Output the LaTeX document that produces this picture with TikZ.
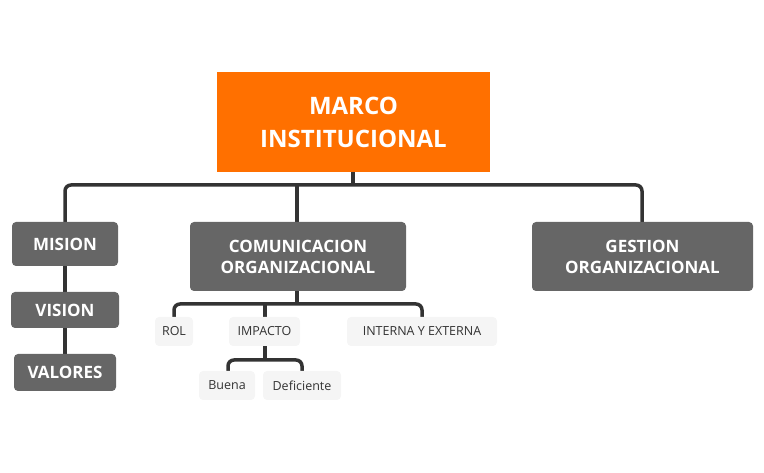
\documentclass[tikz,border=0pt]{standalone}
\usepackage{fontspec}
\setmainfont{Open Sans}
\begin{document}
\begin{tikzpicture}[x=1pt,y=-1pt,
  conn/.style={draw=black!80,line width=3.5pt,rounded corners=6pt},
  mainbox/.style={fill=black!60,rounded corners=4pt,text=white,font=\bfseries\fontsize{17}{21}\selectfont,align=center,inner sep=0pt},
  subbox/.style={fill=black!4,rounded corners=4pt,text=black!80,font=\fontsize{12.5}{15}\selectfont,inner sep=0pt}]
\useasboundingbox (0,0) rectangle (764,473);
\def\bx#1#2#3#4#5#6#7{\node[#7,minimum width=#4-#2,minimum height=#5-#3] (#1) at ({(#2+#4)/2},{(#3+#5)/2}) {#6};}
% connectors first
\coordinate (b1) at (353,185);
\draw[conn] (353,172) -- (353,185);
\draw[conn] (65,222) |- (353,185) -| (642,222);
\draw[conn] (297,222) -- (297,185);
\draw[conn] (65,222) -- (65,391);
\draw[conn] (297,291) -- (297,304);
\draw[conn] (174,317) |- (297,304) -| (422,317);
\draw[conn] (265,317) -- (265,304);
\draw[conn] (265,346) -- (265,360);
\draw[conn] (228,371) |- (265,360) -| (302,371);
\bx{marco}{217}{72}{490}{172}{MARCO\\INSTITUCIONAL}{mainbox,fill={rgb,255:red,255;green,112;blue,0},rounded corners=0pt,font=\bfseries\fontsize{24}{33}\selectfont}
\bx{mision}{12}{222}{118}{266}{MISION}{mainbox}
\bx{vision}{11}{292}{119}{328}{VISION}{mainbox}
\bx{valores}{14}{354}{116}{391}{VALORES}{mainbox}
\bx{com}{190}{222}{406}{291}{COMUNICACION\\ORGANIZACIONAL}{mainbox}
\bx{gest}{532}{222}{753}{291}{GESTION\\ORGANIZACIONAL}{mainbox}
\bx{rol}{155}{317}{193}{346}{ROL}{subbox}
\bx{imp}{229}{317}{300}{346}{IMPACTO}{subbox}
\bx{int}{347}{317}{497}{346}{INTERNA Y EXTERNA}{subbox}
\bx{buena}{199}{371}{255}{400}{Buena}{subbox}
\bx{def}{263}{371}{341}{400}{Deficiente}{subbox}
\end{tikzpicture}
\end{document}
